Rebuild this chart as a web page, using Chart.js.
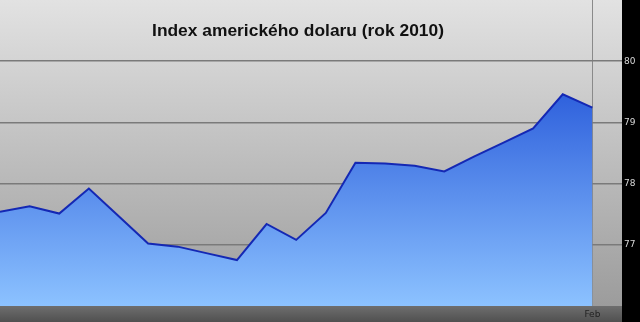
<!DOCTYPE html>
<html>
<head>
<meta charset="utf-8">
<script src="https://cdn.jsdelivr.net/npm/chart.js@4"></script>
<style>
  html, body { margin: 0; padding: 0; background: #000; }
  .wrap { position: relative; width: 640px; height: 322px; }
  .title {
    position: absolute; left: 0; top: 20px; width: 596px;
    text-align: center; font: bold 17.4px "Liberation Sans", Arial, sans-serif; color: #111;
  }
</style>
</head>
<body>
<div class="wrap">
  <canvas id="usdChart" width="640" height="322"></canvas>
  <div class="title">Index amerického dolaru (rok 2010)</div>
</div>
<script>
// trading days, Jan 2010 -> 1 Feb
const days = ["4 Jan", "5 Jan", "6 Jan", "7 Jan", "8 Jan", "11 Jan", "12 Jan", "13 Jan", "14 Jan", "15 Jan", "18 Jan",
  "19 Jan", "20 Jan", "21 Jan", "22 Jan", "25 Jan", "26 Jan", "27 Jan", "28 Jan", "29 Jan", "1 Feb", ""];
const usdIndex = [77.54, 77.63, 77.51, 77.92, 77.47, 77.02, 76.97, 76.86, 76.75, 77.34, 77.08,
  77.52, 78.34, 78.33, 78.29, 78.2, 78.44, 78.67, 78.9, 79.46, 79.24];
const yTicks = [77, 78, 79, 80];

// backgrounds: grey plot area, dark bottom strip, black right strip
const backdrop = {
  id: "backdrop",
  beforeDraw(chart) {
    const { ctx, chartArea: a, width, height } = chart;
    ctx.save();
    ctx.fillStyle = "#000";
    ctx.fillRect(0, 0, width, height);
    let g = ctx.createLinearGradient(0, a.top, 0, a.bottom);
    g.addColorStop(0, "#e2e2e2");
    g.addColorStop(1, "#9c9c9c");
    ctx.fillStyle = g;
    ctx.fillRect(a.left, a.top, a.right - a.left, a.bottom - a.top);
    g = ctx.createLinearGradient(0, a.bottom, 0, height);
    g.addColorStop(0, "#6e6e6e");
    g.addColorStop(1, "#505050");
    ctx.fillStyle = g;
    ctx.fillRect(a.left, a.bottom, a.right - a.left, height - a.bottom);
    ctx.restore();
  }
};

const ctx = document.getElementById("usdChart");

new Chart(ctx, {
  type: "line",
  data: {
    labels: days,
    datasets: [
      {
        data: usdIndex,
        borderColor: "#1428b4",
        borderWidth: 2,
        pointRadius: 0,
        tension: 0,
        fill: "start",
        backgroundColor: (c) => {
          const a = c.chart.chartArea;
          if (!a) return "#5a8ee8";
          const g = c.chart.ctx.createLinearGradient(0, a.top, 0, a.bottom);
          g.addColorStop(0, "#1c48d0");
          g.addColorStop(0.3, "#2e60dc");
          g.addColorStop(1, "#8cc2ff");
          return g;
        },
      },
    ],
  },
  options: {
    responsive: false,
    animation: false,
    layout: { padding: 0 },
    plugins: { legend: { display: false }, tooltip: { enabled: false } },
    scales: {
      x: {
        offset: false,
        grid: {
          color: (c) => (c.index === 20 ? "#8a8a8a" : "rgba(0,0,0,0)"),
          drawTicks: false,
        },
        border: { display: false },
        ticks: {
          autoSkip: false,
          maxRotation: 0,
          padding: 3,
          color: "#222",
          font: { family: "DejaVu Sans", size: 9 },
          callback: function (v, i) {
            return days[i] === "1 Feb" ? "Feb" : "";
          },
        },
        afterFit: (s) => {
          s.height = 16;
          s.paddingLeft = 0;
          s.paddingRight = 0;
        },
      },
      y: {
        position: "right",
        min: 76,
        max: 81,
        grid: { color: "#7a7a7a", lineWidth: 1.5, drawTicks: false },
        border: { display: false },
        afterBuildTicks: (s) => { s.ticks = yTicks.map((v) => ({ value: v })); },
        ticks: {
          padding: 2,
          color: "#d8d8d8",
          font: { family: "DejaVu Sans", size: 9 },
        },
        afterFit: (s) => {
          s.width = 18;
          s.paddingTop = 0;
          s.paddingBottom = 0;
        },
      },
    },
  },
  plugins: [backdrop],
});
</script>
</body>
</html>
